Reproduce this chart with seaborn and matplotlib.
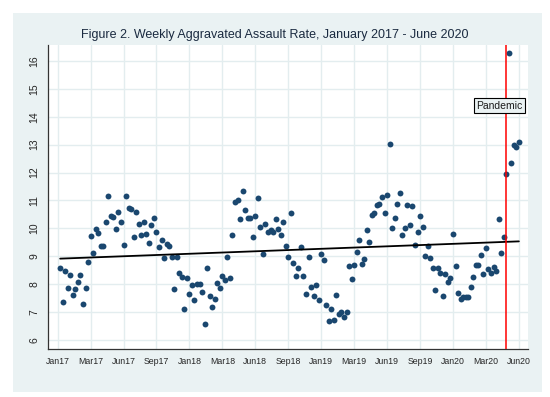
import numpy as np
import pandas as pd
import matplotlib
matplotlib.use("Agg")
import matplotlib.pyplot as plt
from matplotlib.patches import Rectangle
import seaborn as sns

# weekly aggravated assault rate, Jan 2017 - Jun 2020
rate = [8.57, 7.38, 8.48, 7.88, 8.32, 7.62, 7.83, 8.07, 8.32, 7.28,
        7.88, 8.79, 9.73, 9.12, 9.99, 9.84, 9.37, 9.38, 10.22, 11.16,
        10.46, 10.40, 9.99, 10.59, 10.22, 9.41, 11.15, 10.72, 10.68, 9.69,
        10.57, 10.17, 9.75, 10.24, 9.80, 9.46, 10.12, 10.39, 9.87, 9.32,
        9.57, 8.94, 9.43, 9.36, 8.99, 7.83, 8.99, 8.40, 8.26, 7.13,
        8.22, 7.65, 7.97, 7.42, 8.00, 8.00, 7.72, 6.58, 8.57, 7.59,
        7.19, 7.47, 8.06, 7.87, 8.28, 8.14, 8.99, 8.22, 9.77, 10.94,
        11.03, 10.34, 11.34, 10.65, 10.39, 10.39, 9.69, 10.43, 11.10, 10.05,
        9.10, 10.14, 9.87, 9.96, 9.86, 10.34, 9.99, 9.77, 10.22, 9.36,
        8.98, 10.55, 8.76, 8.30, 8.58, 9.34, 8.30, 7.65, 8.97, 7.90,
        7.58, 7.97, 7.45, 9.10, 8.87, 7.24, 6.70, 7.11, 6.73, 7.60,
        6.93, 7.01, 6.81, 7.01, 8.64, 8.20, 8.70, 9.14, 9.60, 8.73,
        8.89, 9.93, 9.52, 10.48, 10.56, 10.83, 10.87, 11.14, 10.55, 11.18,
        13.02, 10.01, 10.37, 10.86, 11.26, 9.76, 10.00, 10.84, 10.13, 10.79,
        9.40, 9.87, 10.44, 10.06, 9.02, 9.36, 8.94, 8.59, 7.79, 8.59,
        8.39, 7.58, 8.37, 8.08, 8.22, 9.81, 8.65, 7.70, 7.47, 7.53,
        7.53, 7.53, 7.91, 8.25, 8.70, 8.70, 9.05, 8.37, 9.31, 8.53,
        8.41, 8.62, 8.46, 10.35, 9.13, 9.70, 11.96, 16.27, 12.33, 12.98,
        12.91, 13.10]
week = np.arange(1, len(rate) + 1)

tick_weeks = np.arange(0, 183, 13)
tick_labels = ['Jan17', 'Mar17', 'Jun17', 'Sep17', 'Jan18', 'Mar18', 'Jun18',
               'Sep18', 'Jan19', 'Mar19', 'Jun19', 'Sep19', 'Jan20', 'Mar20', 'Jun20']
pandemic_week = 177

df = pd.DataFrame({'week': week, 'rate': rate})

sns.set_style('white')
plt.rcParams['font.family'] = ['Liberation Sans', 'DejaVu Sans']

bg = '#EAF2F3'
navy = '#1A476F'

fig = plt.figure(figsize=(5.5, 3.97), dpi=100, facecolor='white')
fig.patches.append(Rectangle((13 / 550, 1 - 392 / 397), (542 - 13) / 550, (392 - 13) / 397,
                             transform=fig.transFigure, facecolor=bg, edgecolor='none', zorder=-5))
ax = fig.add_axes([48 / 550, 1 - 349 / 397, 480 / 550, 304 / 397])
ax.set_facecolor('white')

sns.regplot(data=df, x='week', y='rate', ci=None, ax=ax,
            scatter_kws={'s': 18, 'color': navy, 'linewidths': 0, 'alpha': 1, 'zorder': 3},
            line_kws={'color': 'black', 'lw': 1.3, 'zorder': 4})

ax.axvline(pandemic_week, color='red', lw=1.1, zorder=5)
ax.text(174.3, 14.4, 'Pandemic', ha='center', va='center', fontsize=7.5, color='#1a1a1a', zorder=6,
        bbox=dict(boxstyle='square,pad=0.25', facecolor=bg, edgecolor='black', lw=0.8))

ax.set_xlim(-3.8, 185.6)
ax.set_ylim(5.68, 16.57)
ax.set_xticks(tick_weeks)
ax.set_xticklabels(tick_labels, fontsize=6.3)
ax.set_yticks(range(6, 17))
ax.set_yticklabels([str(v) for v in range(6, 17)], fontsize=7.5, rotation=90, va='center')
ax.set_xlabel('')
ax.set_ylabel('')
ax.grid(True, color='#E3EDEF', lw=1)
ax.set_axisbelow(True)
for s in ['top', 'right']:
    ax.spines[s].set_visible(False)
for s in ['left', 'bottom']:
    ax.spines[s].set_color('#333333')
    ax.spines[s].set_linewidth(0.9)
ax.tick_params(axis='both', direction='out', length=4, width=0.8, color='#333333', pad=2)

fig.text(0.5, 1 - 35 / 397, 'Figure 2. Weekly Aggravated Assault Rate, January 2017 - June 2020',
         ha='center', va='center', fontsize=9, color='#1a2a40')

fig.savefig('out.png', dpi=100, facecolor=fig.get_facecolor())
